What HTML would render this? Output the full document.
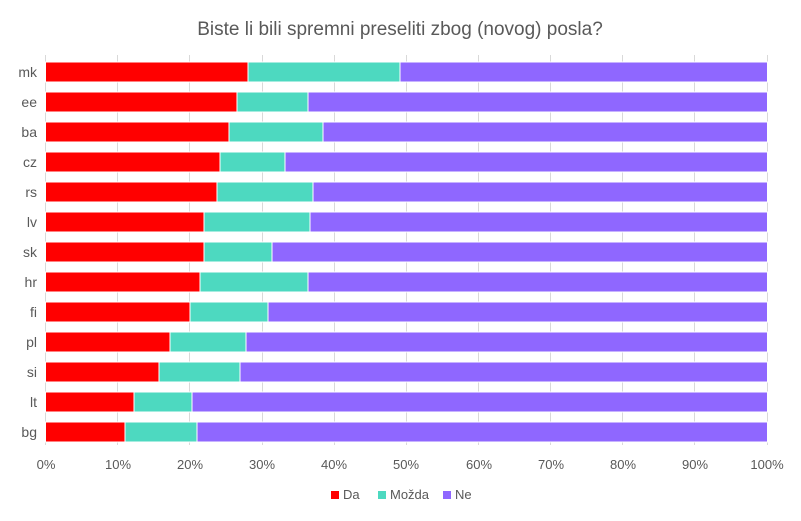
<!DOCTYPE html>
<html><head><meta charset="utf-8"><style>body{margin:0;background:#fff}svg{display:block}text{font-family:"Liberation Sans",sans-serif;fill:#595959}</style></head><body>
<svg width="801" height="521" xmlns="http://www.w3.org/2000/svg">
<text x="400" y="35" text-anchor="middle" font-size="19">Biste li bili spremni preseliti zbog (novog) posla?</text>
<g stroke="#d9d9d9" stroke-width="1">
<line x1="45.5" y1="55" x2="45.5" y2="445"/><line x1="117.5" y1="55" x2="117.5" y2="445"/><line x1="189.5" y1="55" x2="189.5" y2="445"/><line x1="262.5" y1="55" x2="262.5" y2="445"/><line x1="334.5" y1="55" x2="334.5" y2="445"/><line x1="406.5" y1="55" x2="406.5" y2="445"/><line x1="478.5" y1="55" x2="478.5" y2="445"/><line x1="550.5" y1="55" x2="550.5" y2="445"/><line x1="622.5" y1="55" x2="622.5" y2="445"/><line x1="694.5" y1="55" x2="694.5" y2="445"/><line x1="767.5" y1="55" x2="767.5" y2="445"/>
</g>
<g id="bars" stroke="#fff" stroke-width="1"></g>
<g font-size="13" text-anchor="middle">
<text x="46" y="469">0%</text><text x="118" y="469">10%</text><text x="190" y="469">20%</text><text x="262" y="469">30%</text><text x="334" y="469">40%</text><text x="406" y="469">50%</text><text x="479" y="469">60%</text><text x="551" y="469">70%</text><text x="623" y="469">80%</text><text x="695" y="469">90%</text><text x="767" y="469">100%</text>
</g>
<g font-size="13">
<rect x="331" y="491" width="8" height="8" fill="#ff0000"/><text x="343" y="499">Da</text>
<rect x="378" y="491" width="8" height="8" fill="#4dd9c0"/><text x="390" y="499">Možda</text>
<rect x="443" y="491" width="8" height="8" fill="#8f67ff"/><text x="455" y="499">Ne</text>
</g>
<g font-size="14" text-anchor="end" id="labels"></g>
<script>
var d=[["mk",248,400],["ee",237,308],["ba",229,323],["cz",220,285],["rs",217,313],["lv",204,310],["sk",204,272],["hr",200,308],["fi",190,268],["pl",170,246],["si",159,240],["lt",134,192],["bg",125,197]];
var ns="http://www.w3.org/2000/svg",b=document.getElementById("bars"),l=document.getElementById("labels");
d.forEach(function(r,i){var y=62+i*30;
[[45.5,r[1],"#ff0000"],[r[1],r[2],"#4dd9c0"],[r[2],767.5,"#8f67ff"]].forEach(function(s){var e=document.createElementNS(ns,"rect");e.setAttribute("x",s[0]);e.setAttribute("y",y);e.setAttribute("width",s[1]-s[0]);e.setAttribute("height",20);e.setAttribute("fill",s[2]);b.appendChild(e);});
var t=document.createElementNS(ns,"text");t.setAttribute("x",37);t.setAttribute("y",y+15);t.textContent=r[0];l.appendChild(t);});
</script>
</svg>
</body></html>
